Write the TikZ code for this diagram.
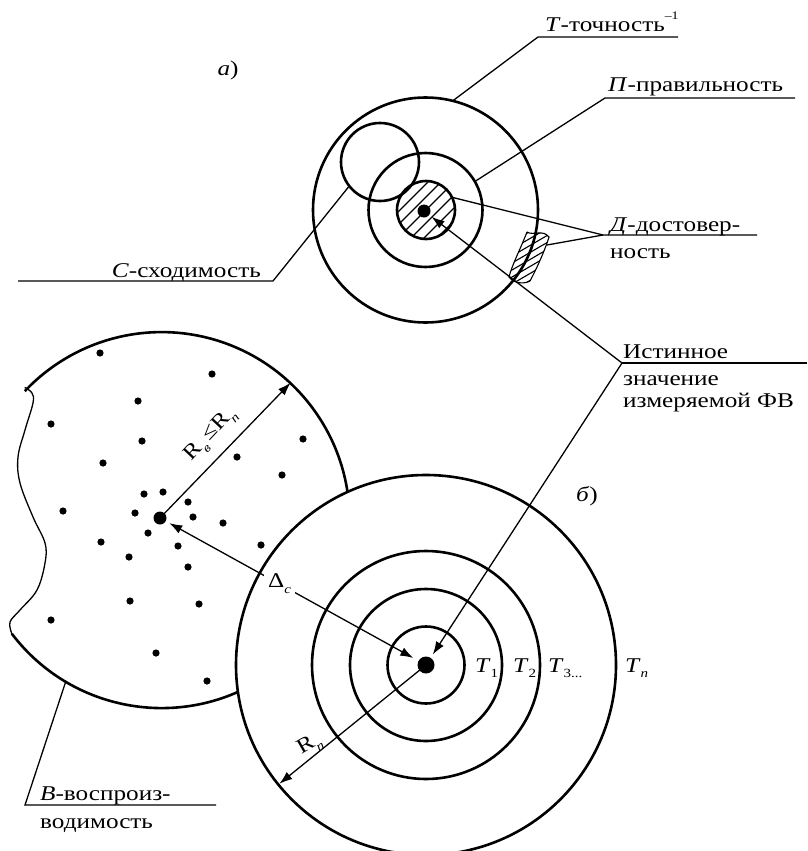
\documentclass[tikz,border=0pt]{standalone}
\usepackage{fontspec}
\setmainfont[FakeStretch=1.2]{Liberation Serif}
\usetikzlibrary{arrows.meta}
\newcommand\mysub[1]{\raisebox{-0.28em}{\fontsize{12.5}{12.5}\selectfont #1}}
\newcommand\mysup[1]{\raisebox{0.6em}{\fontsize{11.5}{11.5}\selectfont #1}}
\begin{document}
\begin{tikzpicture}[x=1pt,y=1pt,
  thk/.style={line width=2.6pt},
  thn/.style={line width=1.3pt},
  ring/.style={circle, draw, line width=2.6pt, inner sep=0pt, outer sep=0pt},
  bigdot/.style={circle, fill, inner sep=0pt, outer sep=0pt},
  lbl/.style={inner sep=0pt, font=\fontsize{21}{24}\selectfont},
  arr/.style={-{Latex[length=13pt,width=9pt]}},
]
\useasboundingbox (0,0) rectangle (807,-851);

% ---------- a) ----------
\node[ring, minimum size=225pt] (Tb) at (425.5,-210) {};
\node[ring, minimum size=114pt] (Pm) at (425.5,-210) {};
\begin{scope}
  \clip (426,-210) circle (29);
  \foreach \k in {-65,-52,...,65} \draw[thn] ({426+\k-40},-250) -- ({426+\k+40},-170);
\end{scope}
\node[ring, minimum size=58pt] (Dh) at (426,-210) {};
\node[bigdot, minimum size=13pt] (dA) at (424,-211) {};
\node[ring, minimum size=78pt] (Cs) at (380,-162) {};

% hatched patch
\begin{scope}
  \clip (527,-232) .. controls (520,-250) and (512,-265) .. (509,-277)
        .. controls (514,-284) and (525,-284) .. (530,-281)
        .. controls (537,-268) and (545,-250) .. (549,-237)
        .. controls (543,-229) and (533,-236) .. (527,-232);
  \foreach \k in {200,207,...,300} \draw[line width=1.1pt] (500,-\k) -- (560,{-\k+35});
\end{scope}
\draw[line width=1.1pt] (527,-232) .. controls (520,-250) and (512,-265) .. (509,-277)
        .. controls (514,-284) and (525,-284) .. (530,-281)
        .. controls (537,-268) and (545,-250) .. (549,-237)
        .. controls (543,-229) and (533,-236) .. (527,-232);

\node[lbl] (la) at (228,-70) {\textit{а})};

\node[lbl, anchor=base west] (lT) at (545,-32) {\textit{Т}-точность\mysup{–1}};
\coordinate (uT1) at (538,-37); \coordinate (uT2) at (678,-37);
\draw[thn] (uT2) -- (uT1) -- (Tb.76.5);

\node[lbl, anchor=base west] (lP) at (608,-92) {\textit{П}-правильность};
\coordinate (uP1) at (605,-98); \coordinate (uP2) at (795,-98);
\draw[thn] (uP2) -- (uP1) -- (Pm.30);

\node[lbl, anchor=base west] (lD1) at (610,-231) {\textit{Д}-достовер-};
\node[lbl, anchor=base west] (lD2) at (610,-258) {ность};
\coordinate (uD1) at (603,-235); \coordinate (uD2) at (757,-235);
\coordinate (pD) at (547,-245);
\draw[thn] (uD2) -- (uD1) -- (Dh.26.6);
\draw[thn] (uD1) -- (pD);

\node[lbl, anchor=base east] (lC) at (261,-277) {\textit{С}-сходимость};
\coordinate (uC1) at (273,-281); \coordinate (uC2) at (18,-281);
\draw[thn] (uC2) -- (uC1) -- (Cs.218);

% ---------- b) ----------
\node[circle, inner sep=0pt, outer sep=0pt, minimum size=376pt] (Bl) at (160,-518) {};
\draw[thk] (Bl.-142.8) arc[start angle=-142.8, end angle=136.7, radius=188];
\draw[thn] plot[smooth, tension=0.6] coordinates {(Bl.-142.8) (10,-622) (20,-610) (37,-590) (45,-563) (45,-543) (33,-517) (20,-483) (18,-457) (25,-430) (33,-403) (32,-393) (Bl.136.7)};

\node[ring, fill=white, minimum size=380pt] (Tn) at (426,-665) {};
\node[ring, minimum size=228pt] (T3) at (426,-665) {};
\node[ring, minimum size=152pt] (T2) at (426,-665) {};
\node[ring, minimum size=77pt] (T1) at (426,-665) {};
\node[bigdot, minimum size=17pt] (dB) at (426,-665) {};

\foreach \p in {(100,-353),(212,-374),(138,-401),(51,-424),(142,-441),(303,-439),
  (237,-457),(103,-463),(282,-475),(144,-494),(163,-492),(188,-502),(63,-511),
  (135,-513),(193,-517),(223,-523),(148,-533),(101,-542),(178,-546),(261,-545),
  (129,-557),(188,-567),(130,-601),(199,-604),(51,-620),(156,-653),(207,-681)}
  \fill \p circle (3.6);
\node[bigdot, minimum size=13pt] (dBl) at (160,-518) {};

\draw[thn, arr] (dBl.center) -- (Bl.46.7);
\node[lbl, rotate=46.7] (lRb) at (211,-435) {R\mysub{\textit{в}}\,≤R\mysub{\textit{n}}};

\draw[thn, {Latex[length=13pt,width=9pt]}-{Latex[length=13pt,width=9pt]}, shorten <=4pt, shorten >=6pt]
  (dBl) -- (dB) node[lbl, pos=0.45, fill=white, inner sep=4pt] (lDc) {Δ\mysub{\textit{c}}};

\draw[thn, arr, shorten >=1.3pt] (dB.center) -- (Tn.219.8);
\node[lbl, rotate=30] (lRn) at (310,-745) {R\mysub{\textit{n}}};

\node[lbl, anchor=base west] (lT1) at (475,-672) {\textit{T}\mysub{1}};
\node[lbl, anchor=base west] (lT2) at (513,-672) {\textit{T}\mysub{2}};
\node[lbl, anchor=base west] (lT3) at (548,-672) {\textit{T}\mysub{3...}};
\node[lbl, anchor=base west] (lTn) at (625,-672) {\textit{T}\mysub{\textit{n}}};
\node[lbl] (lb) at (587,-496) {\textit{б})};

\node[lbl, anchor=base west] (lI1) at (623,-358) {Истинное};
\node[lbl, anchor=base west] (lI2) at (623,-385) {значение};
\node[lbl, anchor=base west] (lI3) at (623,-407) {измеряемой ФВ};
\coordinate (uI1) at (622,-363); \coordinate (uI2) at (807,-363);
\draw[thn] (uI2) -- (uI1);
\draw[thn, arr, shorten >=3pt] (uI1) -- (dA);
\draw[thn, arr, shorten >=4pt] (uI1) -- (dB);

\node[lbl, anchor=base west] (lB1) at (40,-800) {\textit{В}-воспроиз-};
\node[lbl, anchor=base west] (lB2) at (40,-828) {водимость};
\coordinate (uB1) at (25,-805); \coordinate (uB2) at (216,-805);
\draw[thn] (uB2) -- (uB1) -- (Bl.240.9);
\end{tikzpicture}
\end{document}
